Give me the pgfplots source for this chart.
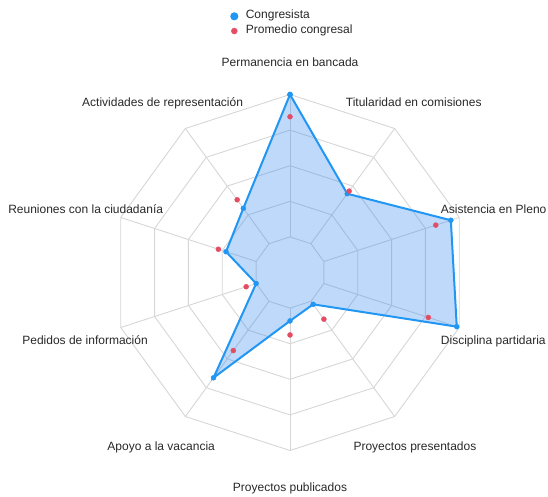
\documentclass[border=0pt]{standalone}
\usepackage{pgfplots}
\pgfplotsset{compat=1.18}
\usepackage{fontspec}
\setmainfont{Liberation Sans}

\definecolor{congre}{RGB}{33,150,243}
\definecolor{congrefill}{RGB}{40,130,240}
\definecolor{prom}{RGB}{228,76,100}
\definecolor{gridc}{RGB}{214,214,214}
\definecolor{txt}{RGB}{40,40,40}

\tikzset{lbl/.style={font=\fontsize{12bp}{14bp}\selectfont, text=txt, inner sep=0pt}}

\begin{document}
\begin{tikzpicture}
\begin{axis}[
  scale only axis, width=548bp, height=497bp,
  xmin=-1.6292, xmax=1.4494, ymin=-1.2612, ymax=1.5309,
  hide axis, clip=false,
  legend cell align=left,
  legend style={draw=none, fill=none, at={(0.4203,0.9819)}, anchor=north west,
    inner sep=0pt, outer sep=0pt, row sep=0pt,
    font=\fontsize{12bp}{14bp}\selectfont, text=txt,
    nodes={inner sep=0pt, text height=9.5bp, text depth=5.2bp},
    /tikz/every odd column/.append style={column sep=7.5bp}},
]
\path (rel axis cs:0,0) rectangle (rel axis cs:1,1);

% decagon rings
\pgfplotsinvokeforeach{0.2,0.4,0.6,0.8,1.0}{
  \addplot[gridc, line width=0.9bp, data cs=polar, forget plot] coordinates {
    (90,#1) (54,#1) (18,#1) (-18,#1) (-54,#1) (-90,#1) (-126,#1) (-162,#1) (162,#1) (126,#1) (90,#1)};
}
% spokes
\pgfplotsinvokeforeach{90,54,18,-18,-54,-90,-126,-162,162,126}{
  \addplot[gridc, line width=0.9bp, data cs=polar, forget plot] coordinates {(#1,0.2) (#1,1)};
}

% Congresista
\addplot[draw=congre, line width=2bp, fill=congrefill, fill opacity=0.3, draw opacity=1,
  data cs=polar, mark=*, mark size=2.5bp,
  mark options={fill=congre, draw=congre, fill opacity=1, draw opacity=1, line width=0.4bp},
  legend image code/.code={\fill[congre, fill opacity=1] (0bp,0bp) circle (3bp);}]
  coordinates {
    (90,1.0) (54,0.547) (18,0.950) (-18,0.985) (-54,0.221)
    (-90,0.272) (-126,0.731) (-162,0.200) (162,0.378) (126,0.446) (90,1.0)};
\addlegendentry{Congresista}

% Promedio congresal
\addplot[only marks, data cs=polar, mark=*, mark size=2.5bp,
  mark options={fill=prom, draw=prom},
  legend image code/.code={\fill[prom, fill opacity=1] (0bp,0bp) circle (3bp);}]
  coordinates {
    (90,0.875) (54,0.565) (18,0.861) (-18,0.817) (-54,0.324)
    (-90,0.351) (-126,0.542) (-162,0.259) (162,0.423) (126,0.505)};
\addlegendentry{Promedio congresal}

% axis labels
\node[lbl, anchor=base] at (axis cs:0,1.160) {Permanencia en bancada};
\node[lbl, anchor=base west] at (axis cs:0.313,0.935) {Titularidad en comisiones};
\node[lbl, anchor=base west] at (axis cs:0.847,0.334) {Asistencia en Pleno};
\node[lbl, anchor=base west] at (axis cs:0.847,-0.402) {Disciplina partidaria};
\node[lbl, anchor=base west] at (axis cs:0.356,-0.999) {Proyectos presentados};
\node[lbl, anchor=base] at (axis cs:0,-1.229) {Proyectos publicados};
\node[lbl, anchor=base east] at (axis cs:-0.421,-0.999) {Apoyo a la vacancia};
\node[lbl, anchor=base east] at (axis cs:-0.798,-0.402) {Pedidos de información};
\node[lbl, anchor=base east] at (axis cs:-0.712,0.334) {Reuniones con la ciudadanía};
\node[lbl, anchor=base east] at (axis cs:-0.263,0.935) {Actividades de representación};
\end{axis}
\end{tikzpicture}
\end{document}
